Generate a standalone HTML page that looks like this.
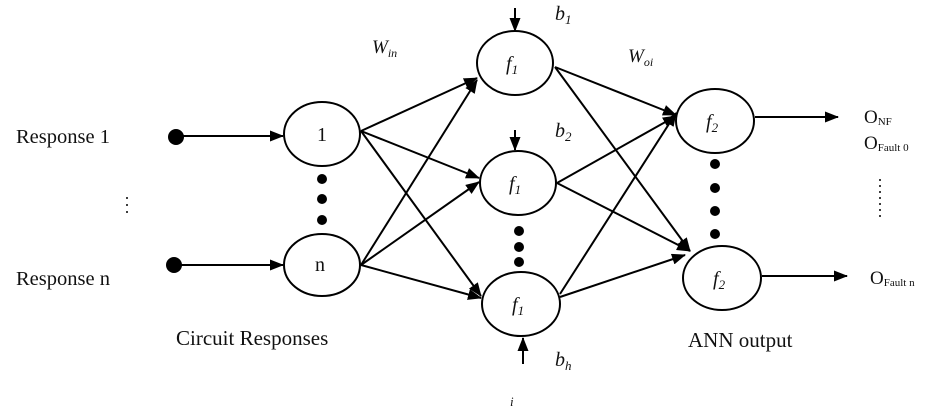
<!DOCTYPE html>
<html><head><meta charset="utf-8"><style>
html,body{margin:0;padding:0;background:#fff}
svg{display:block}
text{font-family:"Liberation Serif",serif;fill:#111}
</style></head><body>
<svg width="940" height="418" viewBox="0 0 940 418" xmlns="http://www.w3.org/2000/svg">
<defs><marker id="a" markerWidth="14" markerHeight="11" refX="13" refY="5.5" orient="auto" markerUnits="userSpaceOnUse"><path d="M0,0 L14,5.5 L0,11 z" fill="#000"/></marker></defs>
<g stroke="#000" stroke-width="2" fill="none">
<ellipse cx="322" cy="134" rx="38" ry="32"/>
<ellipse cx="322" cy="265" rx="38" ry="31"/>
<ellipse cx="515" cy="63" rx="38" ry="32"/>
<ellipse cx="518" cy="183" rx="38" ry="32"/>
<ellipse cx="521" cy="304" rx="39" ry="32"/>
<ellipse cx="715" cy="121" rx="39" ry="32"/>
<ellipse cx="722" cy="278" rx="39" ry="32"/>
<g marker-end="url(#a)">
<line x1="182" y1="136" x2="283" y2="136"/>
<line x1="180" y1="265" x2="283" y2="265"/>
<line x1="361" y1="131" x2="477" y2="78"/>
<line x1="361" y1="131" x2="479" y2="178"/>
<line x1="361" y1="131" x2="481" y2="296"/>
<line x1="361" y1="265" x2="477" y2="80"/>
<line x1="361" y1="265" x2="479" y2="182"/>
<line x1="361" y1="265" x2="481" y2="298"/>
<line x1="555" y1="67" x2="676" y2="115"/>
<line x1="555" y1="67" x2="690" y2="251"/>
<line x1="557" y1="183" x2="676" y2="116"/>
<line x1="557" y1="183" x2="690" y2="251"/>
<line x1="560" y1="294" x2="676" y2="113"/>
<line x1="560" y1="297" x2="685" y2="255"/>
<line x1="755" y1="117" x2="838" y2="117"/>
<line x1="762" y1="276" x2="847" y2="276"/>
<line x1="515" y1="8" x2="515" y2="31"/>
<line x1="515" y1="130" x2="515" y2="150"/>
<line x1="523" y1="364" x2="523" y2="338"/>
</g>
</g>
<g fill="#000">
<circle cx="176" cy="137" r="8"/><circle cx="174" cy="265" r="8"/>
<circle cx="322" cy="179" r="5"/><circle cx="322" cy="199" r="5"/><circle cx="322" cy="220" r="5"/>
<circle cx="519" cy="231" r="5"/><circle cx="519" cy="247" r="5"/><circle cx="519" cy="262" r="5"/>
<circle cx="715" cy="164" r="5"/><circle cx="715" cy="188" r="5"/><circle cx="715" cy="211" r="5"/><circle cx="715" cy="234" r="5"/>
<circle cx="127" cy="198" r="1"/><circle cx="127" cy="205" r="1"/><circle cx="127" cy="212" r="1"/>
<circle cx="880" cy="180" r="1"/><circle cx="880" cy="186" r="1"/><circle cx="880" cy="192" r="1"/><circle cx="880" cy="198" r="1"/><circle cx="880" cy="204" r="1"/><circle cx="880" cy="210" r="1"/><circle cx="880" cy="216" r="1"/>
</g>
<text x="16" y="143" font-size="20.5">Response 1</text>
<text x="16" y="285" font-size="20.5">Response n</text>
<text x="176" y="345" font-size="21">Circuit Responses</text>
<text x="688" y="347" font-size="21">ANN output</text>
<text x="317" y="141" font-size="20">1</text>
<text x="315" y="271" font-size="20">n</text>
<text x="372" y="53" font-size="19" font-style="italic">W<tspan font-size="12" dy="4">in</tspan></text>
<text x="628" y="62" font-size="19" font-style="italic">W<tspan font-size="12" dy="4">oi</tspan></text>
<g font-style="italic" font-size="20">
<text x="506" y="70">f<tspan font-size="13" dy="4">1</tspan></text>
<text x="509" y="190">f<tspan font-size="13" dy="4">1</tspan></text>
<text x="512" y="311">f<tspan font-size="13" dy="4">1</tspan></text>
<text x="706" y="128">f<tspan font-size="13" dy="4">2</tspan></text>
<text x="713" y="285">f<tspan font-size="13" dy="4">2</tspan></text>
<text x="555" y="20">b<tspan font-size="13" dy="4">1</tspan></text>
<text x="555" y="137">b<tspan font-size="13" dy="4">2</tspan></text>
<text x="555" y="366">b<tspan font-size="13" dy="4">h</tspan></text>
<text x="510" y="406" font-size="13">i</text>
</g>
<text x="864" y="123" font-size="19">O<tspan font-size="11" dy="2">NF</tspan></text>
<text x="864" y="149" font-size="19">O<tspan font-size="11" dy="2">Fault 0</tspan></text>
<text x="870" y="284" font-size="19">O<tspan font-size="11" dy="2">Fault n</tspan></text>
</svg>
</body></html>
